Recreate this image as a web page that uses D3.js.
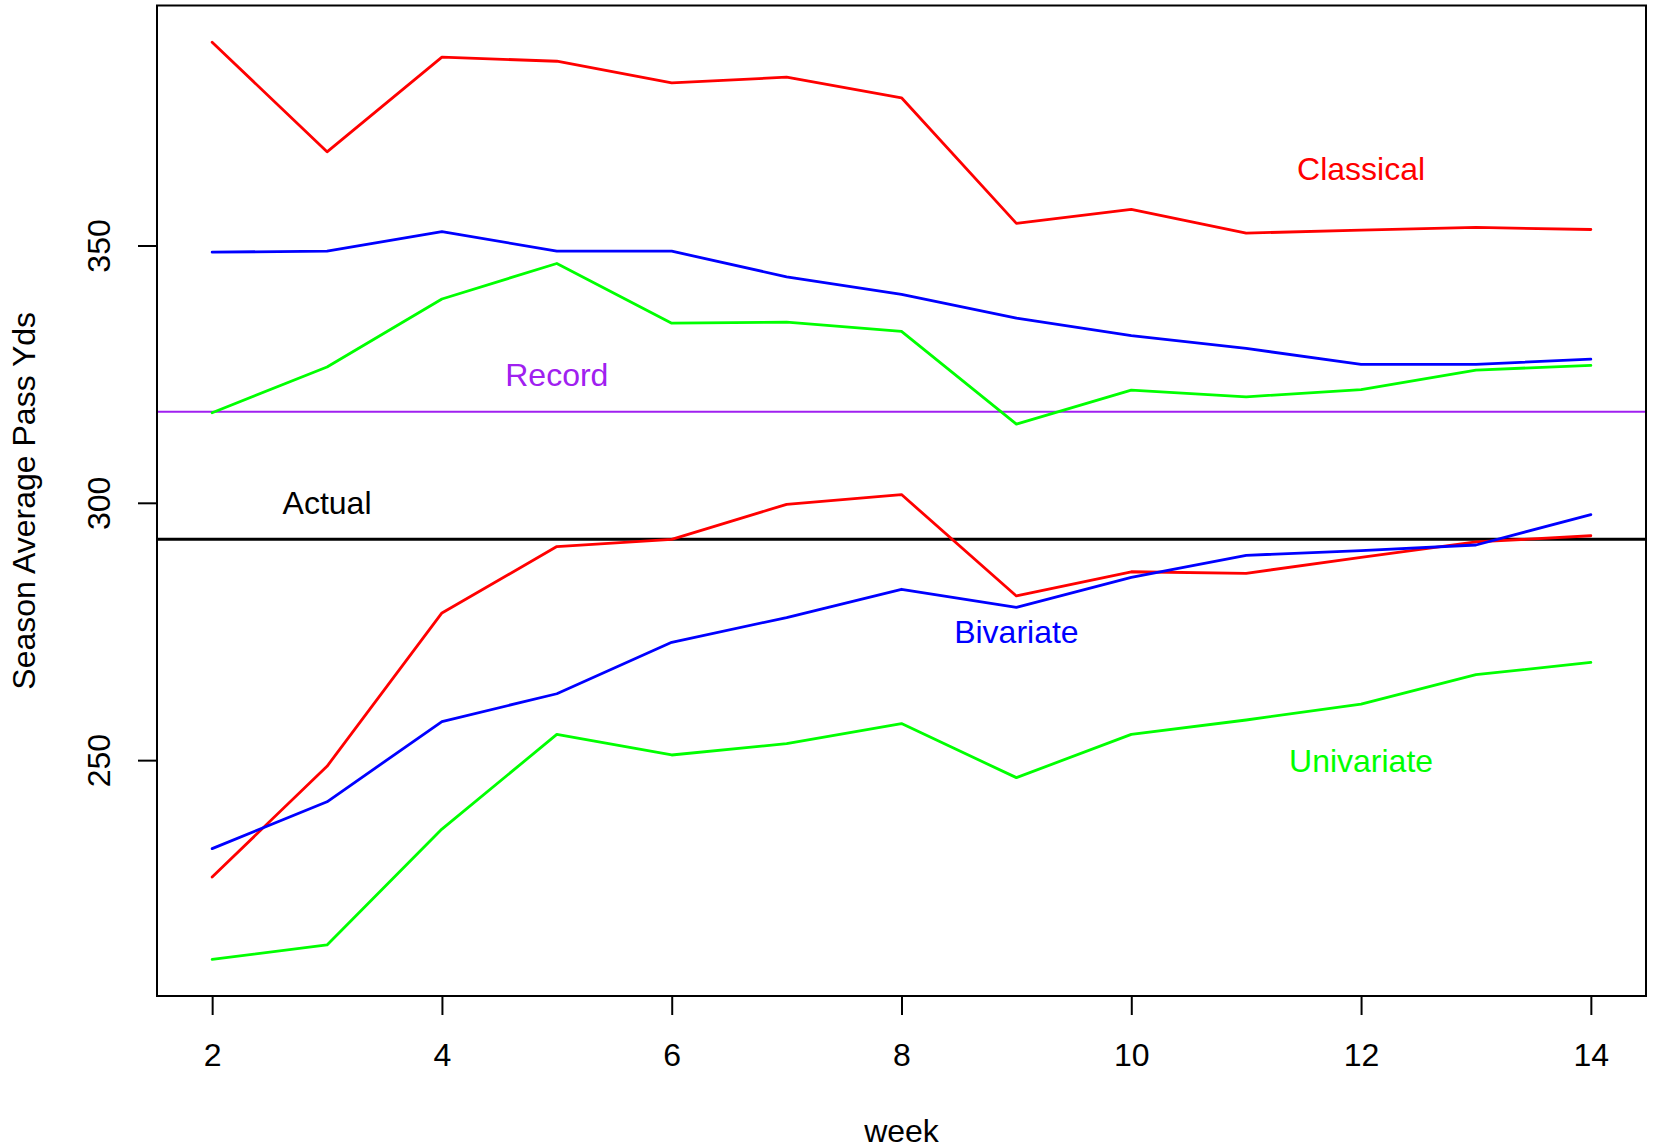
<!DOCTYPE html>
<html>
<head>
<meta charset="utf-8">
<script src="https://cdn.jsdelivr.net/npm/d3@7"></script>
<style>
  html, body { margin: 0; padding: 0; background: #fff; }
  svg { display: block; }
  text { font-family: "Liberation Sans", Arial, Helvetica, sans-serif; }
</style>
</head>
<body>
<script>
// ---- data ----
const weeks = [2, 3, 4, 5, 6, 7, 8, 9, 10, 11, 12, 13, 14];
const classicalUpper  = [389.5, 368.2, 386.6, 385.8, 381.6, 382.7, 378.7, 354.3, 357.0, 352.4, 353.0, 353.5, 353.1];
const classicalLower  = [227.3, 248.8, 278.6, 291.5, 292.9, 299.7, 301.6, 281.9, 286.6, 286.3, 289.4, 292.4, 293.6];
const bivariateUpper  = [348.7, 348.9, 352.7, 348.9, 348.9, 343.9, 340.5, 335.9, 332.5, 330.0, 326.9, 326.9, 327.9];
const bivariateLower  = [232.8, 241.9, 257.5, 262.9, 272.9, 277.7, 283.2, 279.7, 285.5, 289.8, 290.7, 291.8, 297.7];
const univariateUpper = [317.5, 326.4, 339.6, 346.5, 334.9, 335.1, 333.3, 315.3, 321.9, 320.6, 322.0, 325.8, 326.7];
const univariateLower = [211.3, 214.1, 236.6, 255.0, 251.0, 253.2, 257.1, 246.6, 255.0, 257.8, 260.9, 266.6, 269.0];
const recordValue = 317.7;
const actualValue = 292.9;
const xTicks = [2, 4, 6, 8, 10, 12, 14];
const yTicks = [250, 300, 350];
const labels = [
  { text: "Classical",  x: 12, y: 365, color: "#FF0000" },
  { text: "Record",     x: 5,  y: 325, color: "#A020F0" },
  { text: "Actual",     x: 3,  y: 300, color: "#000000" },
  { text: "Bivariate",  x: 9,  y: 275, color: "#0000FF" },
  { text: "Univariate", x: 12, y: 250, color: "#00FF00" }
];
const series = [
  { values: classicalUpper,  color: "#FF0000" },
  { values: classicalLower,  color: "#FF0000" },
  { values: bivariateUpper,  color: "#0000FF" },
  { values: bivariateLower,  color: "#0000FF" },
  { values: univariateUpper, color: "#00FF00" },
  { values: univariateLower, color: "#00FF00" }
];

// ---- layout ----
const W = 1657, H = 1148;
const box = { left: 157, right: 1646, top: 5.5, bottom: 996 };
const fs = 32;

const svg = d3.select("body").append("svg").attr("width", W).attr("height", H);

// R-style 4% padding of ranges
const xExt = d3.extent(weeks);
const xPad = (xExt[1] - xExt[0]) * 0.04;
const allY = series.flatMap(s => s.values);
const yExt = d3.extent(allY);
const yPad = (yExt[1] - yExt[0]) * 0.04;

const x = d3.scaleLinear().domain([xExt[0] - xPad, xExt[1] + xPad]).range([box.left, box.right]);
const y = d3.scaleLinear().domain([yExt[0] - yPad, yExt[1] + yPad]).range([box.bottom, box.top]);

const line = d3.line().x((d, i) => x(weeks[i])).y(d => y(d));

// reference lines
svg.append("line")
  .attr("x1", box.left).attr("x2", box.right)
  .attr("y1", y(recordValue)).attr("y2", y(recordValue))
  .attr("stroke", "#A020F0").attr("stroke-width", 2);
svg.append("line")
  .attr("x1", box.left).attr("x2", box.right)
  .attr("y1", y(actualValue)).attr("y2", y(actualValue))
  .attr("stroke", "#000").attr("stroke-width", 3);

// series lines
svg.append("g").selectAll("path").data(series).join("path")
  .attr("d", d => line(d.values))
  .attr("fill", "none")
  .attr("stroke", d => d.color)
  .attr("stroke-width", 2.8)
  .attr("stroke-linejoin", "round")
  .attr("stroke-linecap", "round");

// labels
svg.append("g").selectAll("text").data(labels).join("text")
  .attr("x", d => x(d.x))
  .attr("y", d => y(d.y) + 11.5)
  .attr("text-anchor", "middle")
  .attr("font-size", fs)
  .attr("fill", d => d.color)
  .text(d => d.text);

// box
svg.append("rect")
  .attr("x", box.left).attr("y", box.top)
  .attr("width", box.right - box.left).attr("height", box.bottom - box.top)
  .attr("fill", "none").attr("stroke", "#000").attr("stroke-width", 2);

// x axis
const xAxis = svg.append("g")
  .attr("transform", `translate(0,${box.bottom})`)
  .call(d3.axisBottom(x).tickValues(xTicks).tickSize(19).tickFormat(d3.format("d")));
xAxis.select(".domain").remove();
xAxis.selectAll(".tick line").attr("stroke", "#000").attr("stroke-width", 2);
xAxis.selectAll(".tick text")
  .attr("y", 70).attr("dy", null)
  .attr("font-size", fs).attr("fill", "#000")
  .attr("font-family", "Liberation Sans, Arial, sans-serif");

// y axis
const yAxis = svg.append("g")
  .attr("transform", `translate(${box.left},0)`)
  .call(d3.axisLeft(y).tickValues(yTicks).tickSize(19).tickFormat(d3.format("d")));
yAxis.select(".domain").remove();
yAxis.selectAll(".tick line").attr("stroke", "#000").attr("stroke-width", 2);
yAxis.selectAll(".tick text")
  .attr("x", null).attr("dy", null).attr("y", null)
  .attr("transform", "translate(-47,0) rotate(-90)")
  .attr("text-anchor", "middle")
  .attr("font-size", fs).attr("fill", "#000")
  .attr("font-family", "Liberation Sans, Arial, sans-serif");

// axis titles
svg.append("text")
  .attr("x", (box.left + box.right) / 2)
  .attr("y", 1141.5)
  .attr("text-anchor", "middle")
  .attr("font-size", fs)
  .text("week");
svg.append("text")
  .attr("transform", `translate(34.5,${(box.top + box.bottom) / 2}) rotate(-90)`)
  .attr("text-anchor", "middle")
  .attr("font-size", fs)
  .text("Season Average Pass Yds");
</script>
</body>
</html>
